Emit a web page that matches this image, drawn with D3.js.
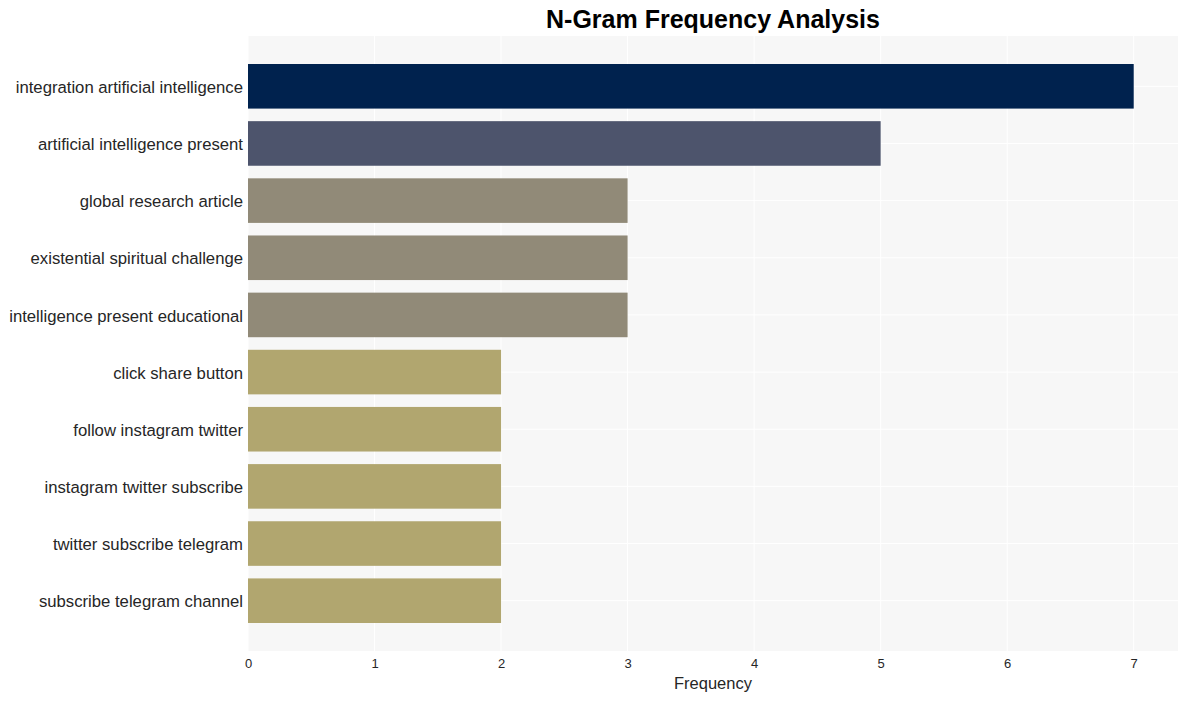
<!DOCTYPE html>
<html>
<head>
<meta charset="utf-8">
<script src="https://cdn.jsdelivr.net/npm/d3@7"></script>
<style>
  body { margin: 0; background: #fff; font-family: "Liberation Sans", Arial, sans-serif; }
  .tick text { fill: #262626; }
</style>
</head>
<body>
<div id="chart-container"></div>
<script>
// n-grams, top to bottom
const ngrams = [
  "integration artificial intelligence",
  "artificial intelligence present",
  "global research article",
  "existential spiritual challenge",
  "intelligence present educational",
  "click share button",
  "follow instagram twitter",
  "instagram twitter subscribe",
  "twitter subscribe telegram",
  "subscribe telegram channel"
];
const counts = [7, 5, 3, 3, 3, 2, 2, 2, 2, 2];
const barColors = ["#00224e", "#4d546c", "#918a78", "#918a78", "#918a78",
                   "#b1a66f", "#b1a66f", "#b1a66f", "#b1a66f", "#b1a66f"];
const xTicks = [0, 1, 2, 3, 4, 5, 6, 7];

const W = 1187, H = 701;
const margin = {top: 36, right: 9, bottom: 50, left: 248};
const width = W - margin.left - margin.right,
      height = H - margin.top - margin.bottom;

const data = ngrams.map((d, i) => ({ngram: d, count: counts[i], color: barColors[i]}));

const svg = d3.select("#chart-container")
  .append("svg")
  .attr("width", W)
  .attr("height", H);

const g = svg.append("g")
  .attr("transform", `translate(${margin.left},${margin.top})`);

const x = d3.scaleLinear()
  .domain([0, 7.35])
  .range([0, width]);

const y = d3.scaleBand()
  .domain(ngrams)
  .range([0, height])
  .paddingInner(0.22)
  .paddingOuter(0.49);

// plot background
g.append("rect")
  .attr("width", width)
  .attr("height", height)
  .attr("fill", "#f7f7f7");

// grid lines
g.selectAll(".vgrid")
  .data(xTicks)
  .join("line")
  .attr("x1", d => x(d)).attr("x2", d => x(d))
  .attr("y1", 0).attr("y2", height)
  .attr("stroke", "#fff").attr("stroke-width", 1);

g.selectAll(".hgrid")
  .data(ngrams)
  .join("line")
  .attr("x1", 0).attr("x2", width)
  .attr("y1", d => y(d) + y.bandwidth() / 2)
  .attr("y2", d => y(d) + y.bandwidth() / 2)
  .attr("stroke", "#fff").attr("stroke-width", 1);

// bars
g.selectAll(".bar")
  .data(data)
  .join("rect")
  .attr("x", x(0))
  .attr("y", d => y(d.ngram))
  .attr("width", d => x(d.count) - x(0))
  .attr("height", y.bandwidth())
  .attr("fill", d => d.color);

// x axis
const xAxis = g.append("g")
  .attr("transform", `translate(0,${height})`)
  .call(d3.axisBottom(x).tickValues(xTicks).tickSize(0).tickPadding(8));
xAxis.select(".domain").remove();
xAxis.selectAll("text")
  .style("font-size", "13px")
  .style("font-family", "'Liberation Sans', Arial, sans-serif");

// y axis
const yAxis = g.append("g")
  .call(d3.axisLeft(y).tickSize(0).tickPadding(5));
yAxis.select(".domain").remove();
yAxis.selectAll("text")
  .attr("dy", "0.4em")
  .style("font-size", "16.7px")
  .style("font-family", "'Liberation Sans', Arial, sans-serif");

// axis title
svg.append("text")
  .attr("x", margin.left + width / 2)
  .attr("y", 689)
  .attr("text-anchor", "middle")
  .style("font-size", "16.5px")
  .attr("fill", "#262626")
  .text("Frequency");

// chart title
svg.append("text")
  .attr("x", margin.left + width / 2)
  .attr("y", 28)
  .attr("text-anchor", "middle")
  .style("font-size", "25px")
  .style("font-weight", "bold")
  .attr("fill", "#000")
  .text("N-Gram Frequency Analysis");
</script>
</body>
</html>
